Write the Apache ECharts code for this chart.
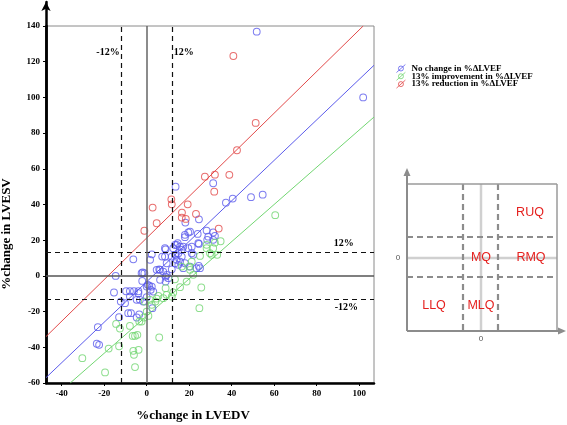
<!DOCTYPE html>
<html><head><meta charset="utf-8">
<script src="https://cdn.jsdelivr.net/npm/echarts@6/dist/echarts.min.js"></script>
<style>html,body{margin:0;padding:0;background:#fff}#c{width:567px;height:425px}</style>
</head><body><div id="c"></div>
<script>
// ---- data ----
const xTicks = [-40, -20, 0, 20, 40, 60, 80, 100];
const yTicks = [-60, -40, -20, 0, 20, 40, 60, 80, 100, 120, 140];
const seriesNames = ['No change in %ΔLVEF', '13% improvement in %ΔLVEF', '13% reduction in %ΔLVEF'];

const noChange = [
  [51.8,136.8],[101.9,100],[31.3,51.9],[13.6,50],[37.3,41],[40.5,43.3],[49.1,44.1],[54.6,45.5],
  [24.6,31.7],[18.2,29.9],[28.2,25.4],[31.3,24.3],[24.0,23.5],[19.6,24.3],[18.0,21.7],[29.0,22.0],
  [32.1,22.4],[28.5,20.2],[31.3,20.2],[24.6,17.9],[14.6,18.3],[20.4,24.8],[18.0,23.0],
  [8.6,15.5],[13.3,17.3],[17.2,16.4],[12.5,15.5],[14.1,17.4],[15.7,16.4],[16.5,14.6],[14.9,12.7],
  [13.3,11.8],[16.5,10.8],[14.1,9.0],[15.7,8.0],[18.0,7.1],[17.2,4.3],[21.2,16.4],[19.6,15.5],
  [21.2,12.7],[21.9,11.8],[24.3,18.3],[24.5,5.6],[25.1,4.3],[8.9,14.9],[7.3,10.8],[5.9,3.7],
  [7.8,2.4],[8.9,-0.4],[8.9,-3.2],[4.7,3.4],[11.8,3.7],[2.4,12.1],[1.6,9.0],[11.8,10.8],[13.3,7.1],
  [14.9,6.2],[20.4,5.2],[23.5,4.3],[8.6,10.8],[9.4,7.1],[6.3,3.4],[9.4,0.6],[10.2,-1.3],[6.3,-2.2],
  [13.6,11.8],
  [-6.3,9.3],[-14.6,0],[-1.9,1.9],[-2.1,-2.8],[0.5,-5.0],[-15.4,-9.3],[-9.7,-8.6],[-7.9,-8.6],
  [-6.0,-8.6],[-3.9,-8.6],[-3.9,-9.7],[-12.2,-14.4],[-10.2,-15.3],[-7.9,-11.6],[-4.7,-13.4],
  [-1.6,-14.4],[0,-11.9],[1.9,-7.8],[2.4,-6.0],[1.2,-5.4],[2.7,-18.1],[-8.7,-20.9],[-7.4,-20.9],
  [-3.5,-21.5],[-4.7,-23.3],[-13.0,-23.1],[-23.0,-28.7],[-23.5,-38.0],[-22.4,-38.6],[-2.4,1.5],
  [0,-6.0],[3.1,-8.8],[-3.2,-13.4],[-1.1,1.5]
];
const improvement = [
  [60.5,34],[28.2,15.5],[32.1,18.6],[34.8,19.4],[28.2,17.4],[31.3,15.5],[33.2,11.8],[29.8,12.7],
  [25.1,11.2],[21.2,8.0],[20.0,5.2],[16.5,5.2],[30.6,11.8],[20.4,3.4],[21.9,0.6],[24.8,-18.1],
  [25.7,-6.5],[18.8,-3.2],[13.3,-1.9],[8.9,-6.9],[12.5,-9.3],[11.8,-11.6],[4.7,-12.7],[7.8,-12.5],
  [9.4,-10.6],[15.7,-6.3],[5.5,-11.2],[-0.9,-14.4],[2.4,-16.2],[4.1,-14.4],[1.6,-13.4],[5.9,-34.5],
  [0,-20.0],[0.8,-22.4],[-1.3,-23.3],[-2.4,-25.6],[-3.5,-25.6],[-7.9,-28.0],[-12.6,-29.5],
  [-14.4,-26.9],[-6.6,-33.6],[-5.5,-33.6],[-4.4,-33.0],[-17.9,-40.7],[-13.0,-39.4],[-6.3,-42.0],
  [-6.0,-44.2],[-3.8,-41.4],[-30.3,-46.1],[-19.6,-54.1],[-5.5,-51.1]
];
const reduction = [
  [40.8,123.2],[51.3,85.7],[42.5,70.4],[27.4,55.6],[32.1,56.7],[38.9,56.6],[31.8,47.2],[11.6,42.9],
  [11.8,40.1],[2.8,38.3],[19.3,40.1],[16.6,35.5],[16.5,32.7],[18.4,31.9],[23.2,34.7],[4.7,29.5],
  [-1.1,25.3],[33.9,26.5]
];
// fitted lines (end points)
const fitNoChange = [[-47.4,-57],[107,118]];
const fitImprovement = [[-36,-60],[107,89]];
const fitReduction = [[-47.4,-34],[101.9,140]];
// reference lines
const refX = [-12, 12];
const refY = [-13, 13];
const zeroLines = [0];

// ---- styles ----
const BLUE = '#5b5bec', GREEN = '#72d672', RED = '#e24a4a';
const COLORS = [BLUE, GREEN, RED];
const SERIF = '"Liberation Serif","Times New Roman",serif';
const iconPath = 'path://M2.2,5a2.8,2.8 0 1,0 5.6,0a2.8,2.8 0 1,0 -5.6,0M0,9.5L10,0.5';

function scatter(name, data, color) {
  return {
    name, type: 'scatter', data, symbol: 'circle', symbolSize: 6.8,
    itemStyle: { color: 'transparent', borderColor: color, borderWidth: 1 },
    xAxisIndex: 0, yAxisIndex: 0, z: 4, silent: true
  };
}
function fit(name, data, color, extra) {
  return Object.assign({
    name, type: 'line', data, showSymbol: false, symbol: 'none',
    lineStyle: { color, width: 1 }, xAxisIndex: 0, yAxisIndex: 0, z: 3, silent: true
  }, extra || {});
}

const chart = echarts.init(document.getElementById('c'), null, { renderer: 'canvas' });

const inset = [];
const G = '#8c8c8c';
function L(x1, y1, x2, y2, style) { inset.push({ type: 'line', shape: { x1, y1, x2, y2 }, style, silent: true }); }
L(481, 184, 481, 331, { stroke: '#d0d0d0', lineWidth: 2.5 });
L(407, 258, 557, 258, { stroke: '#d0d0d0', lineWidth: 2.5 });
const dashS = { stroke: G, lineWidth: 2.2, lineDash: [6, 4] };
L(463, 184, 463, 331, dashS); L(498, 184, 498, 331, dashS);
L(407, 237, 557, 237, dashS); L(407, 277, 557, 277, dashS);
L(407, 184, 557, 184, { stroke: '#9a9a9a', lineWidth: 1.5 });
L(557, 184, 557, 331, { stroke: '#9a9a9a', lineWidth: 1.5 });
L(407, 331, 407, 174, { stroke: G, lineWidth: 2 });
L(407, 331, 561, 331, { stroke: G, lineWidth: 2 });
inset.push({ type: 'polygon', shape: { points: [[407, 168], [403.5, 176], [410.5, 176]] }, style: { fill: G }, silent: true });
inset.push({ type: 'polygon', shape: { points: [[566, 331], [558, 327.5], [558, 334.5]] }, style: { fill: G }, silent: true });
function T(text, x, y, font, fill) {
  inset.push({ type: 'text', x, y, style: { text, font, fill, align: 'center', verticalAlign: 'middle' }, silent: true, z: 10 });
}
const QF = '12.5px "Liberation Sans", Arial, sans-serif', QC = '#e5201e';
T('RUQ', 530, 213, QF, QC); T('MQ', 481, 258, QF, QC); T('RMQ', 531, 258, QF, QC);
T('LLQ', 434, 306, QF, QC); T('MLQ', 481, 306, QF, QC);
T('0', 398, 258, '8px "Liberation Sans", sans-serif', '#555');
T('0', 481, 339, '8px "Liberation Sans", sans-serif', '#555');

const labelStyle = { show: true, color: '#000', fontFamily: SERIF, fontWeight: 'bold', fontSize: 10 };

const option = {
  backgroundColor: '#fff',
  animation: false,
  grid: [
    { left: 46, right: 193, top: 26, bottom: 42, show: true, borderColor: '#8a8a8a', borderWidth: 1, backgroundColor: 'transparent' },
    { left: 46, right: 193, top: 2, bottom: 42 }
  ],
  xAxis: [
    {
      gridIndex: 0, type: 'value', min: -47.4, max: 107,
      axisLine: { show: true, onZero: false, lineStyle: { color: '#000', width: 2.5 } },
      axisTick: { show: true, length: 3, customValues: xTicks, lineStyle: { color: '#000', width: 1 } },
      axisLabel: { customValues: xTicks, margin: 6, color: '#000', fontFamily: SERIF, fontWeight: 'bold', fontSize: 9 },
      splitLine: { show: false }
    },
    { gridIndex: 1, type: 'value', min: 0, max: 1, show: false }
  ],
  yAxis: [
    {
      gridIndex: 0, type: 'value', min: yTicks[0], max: yTicks[yTicks.length - 1], interval: 20,
      axisLine: { show: true, onZero: false, lineStyle: { color: '#000', width: 2.5 } },
      axisTick: { show: true, length: 3, lineStyle: { color: '#000', width: 1 } },
      axisLabel: { margin: 6, color: '#000', fontFamily: SERIF, fontWeight: 'bold', fontSize: 9 },
      splitLine: { show: false }
    },
    {
      gridIndex: 1, type: 'value', min: 0, max: 1,
      axisLine: { show: true, onZero: false, symbol: ['none', 'arrow'], symbolSize: [7, 9], lineStyle: { color: '#000', width: 2.5 } },
      axisTick: { show: false }, axisLabel: { show: false }, splitLine: { show: false }
    }
  ],
  legend: {
    orient: 'vertical', left: 396, top: 64, itemWidth: 11, itemHeight: 8, itemGap: -1.2,
    padding: 0,
    textStyle: { fontFamily: SERIF, fontWeight: 'bold', fontSize: 9, color: '#000', lineHeight: 8 },
    data: seriesNames.map((n, i) => ({
      name: n, icon: iconPath,
      itemStyle: { color: 'transparent', borderColor: COLORS[i], borderWidth: 1 }
    }))
  },
  series: [
    fit('fitNoChange', fitNoChange, BLUE, {
      markLine: {
        silent: true, symbol: ['none', 'none'], label: { show: false }, animation: false,
        data: [
          ...refX.map(v => ({ xAxis: v, lineStyle: { color: '#111', width: 1.2, type: [5, 4] } })),
          ...refY.map(v => ({ yAxis: v, lineStyle: { color: '#111', width: 1.2, type: [5, 4] } })),
          ...zeroLines.map(v => ({ xAxis: v, lineStyle: { color: '#666', width: 1.5, type: 'solid' } })),
          ...zeroLines.map(v => ({ yAxis: v, lineStyle: { color: '#555', width: 1.5, type: 'solid' } }))
        ]
      },
      markPoint: {
        silent: true, symbol: 'rect', symbolSize: 1, animation: false,
        itemStyle: { color: 'transparent' },
        label: Object.assign({ formatter: p => p.name }, labelStyle),
        data: [
          { name: '-12%', coord: [refX[0], 125.4], label: Object.assign({ formatter: p => p.name, position: 'left', distance: 1 }, labelStyle) },
          { name: '12%', coord: [refX[1], 125.4], label: Object.assign({ formatter: p => p.name, position: 'right', distance: 1 }, labelStyle) },
          { name: '12%', coord: [92.8, 18.2], label: Object.assign({ formatter: p => p.name, position: 'inside' }, labelStyle) },
          { name: '-12%', coord: [94, -17.6], label: Object.assign({ formatter: p => p.name, position: 'inside' }, labelStyle) }
        ]
      }
    }),
    fit('fitImprovement', fitImprovement, GREEN),
    fit('fitReduction', fitReduction, RED),
    scatter(seriesNames[0], noChange, BLUE),
    scatter(seriesNames[1], improvement, GREEN),
    scatter(seriesNames[2], reduction, RED)
  ],
  graphic: [
    { type: 'text', x: 7, y: 234, rotation: Math.PI / 2, silent: true,
      style: { text: '%change in LVESV', font: 'bold 13px ' + SERIF, fill: '#000', align: 'center', verticalAlign: 'middle' } },
    { type: 'text', x: 193, y: 416, silent: true,
      style: { text: '%change in LVEDV', font: 'bold 13px ' + SERIF, fill: '#000', align: 'center', verticalAlign: 'middle' } },
    ...inset
  ]
};
chart.setOption(option);
</script>
</body></html>
